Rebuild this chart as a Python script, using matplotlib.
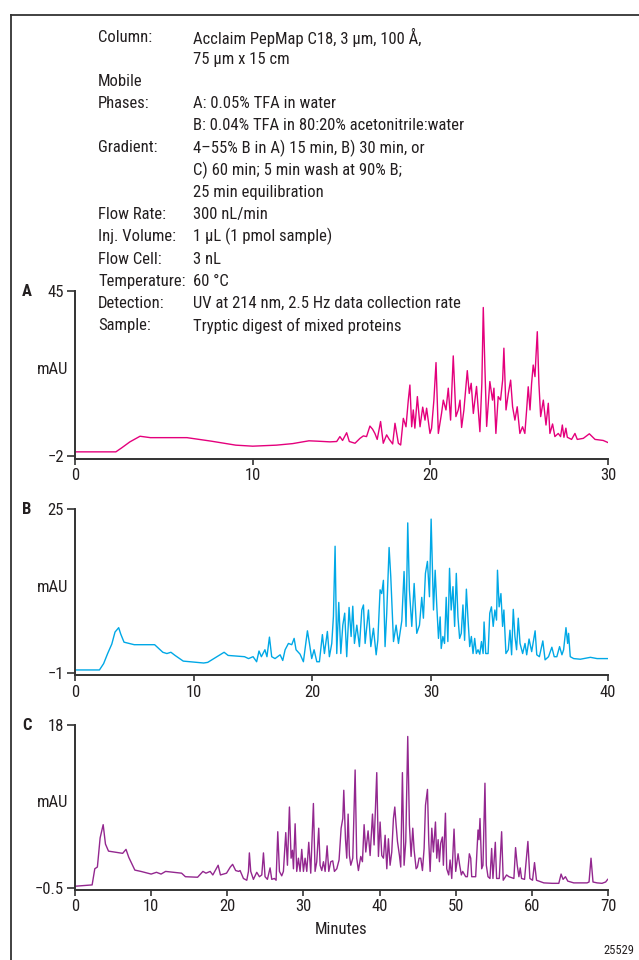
import matplotlib
matplotlib.use("Agg")
import matplotlib.pyplot as plt
import matplotlib.font_manager as fm
from matplotlib.lines import Line2D

# ---------------- font choice: prefer a condensed sans ----------------
FS = 12
_pref = ['Liberation Sans Narrow', 'Roboto Condensed', 'Open Sans Condensed', 'Noto Sans Condensed',
         'DejaVu Sans Condensed']
_names = {f.name for f in fm.fontManager.ttflist}
_chosen = None
_stretch = 'normal'
for n in _pref:
    if n in _names:
        _chosen = n
        break
if _chosen is None:
    for f in fm.fontManager.ttflist:
        if f.stretch in ('condensed', 'semi-condensed') and f.name in (
                'DejaVu Sans', 'Noto Sans', 'Open Sans', 'Roboto', 'Liberation Sans'):
            _chosen = f.name
            _stretch = f.stretch
            break
if _chosen is None:
    _chosen = 'Liberation Sans'
    FS = 11
plt.rcParams['font.family'] = [_chosen, 'DejaVu Sans']
plt.rcParams['font.stretch'] = _stretch

# ---------------- data ----------------
a_time = [0, 2.3, 2.63, 3.09, 3.66, 4.24, 6.3, 7.67, 9.05, 10.0, 11.33, 12.25, 12.82, 13.17, 13.62, 14.0,
          14.35, 14.73, 14.91, 15.06, 15.29, 15.44, 15.76, 16.04, 16.23, 16.41, 16.6, 16.75, 16.88, 17.01,
          17.2, 17.35, 17.54, 17.69, 17.88, 18.01, 18.2, 18.33, 18.48, 18.63, 18.76, 18.85, 18.95, 19.04,
          19.13, 19.27, 19.42, 19.57, 19.7, 19.79, 19.98, 20.07, 20.2, 20.32, 20.45, 20.63, 20.73, 20.88,
          21.01, 21.14, 21.29, 21.44, 21.57, 21.67, 21.76, 21.89, 22.08, 22.19, 22.3, 22.42, 22.6, 22.79,
          22.9, 22.98, 23.07, 23.17, 23.35, 23.5, 23.58, 23.69, 23.82, 23.95, 24.07, 24.14, 24.26, 24.39,
          24.52, 24.63, 24.76, 24.89, 25.04, 25.19, 25.32, 25.42, 25.51, 25.61, 25.7, 25.79, 25.89, 25.94,
          26.02, 26.11, 26.21, 26.36, 26.51, 26.64, 26.73, 26.88, 27.01, 27.2, 27.33, 27.43, 27.52, 27.63,
          27.71, 27.95, 28.14, 28.27, 28.61, 28.95, 29.27, 29.73, 30.0]
a_mau = [-0.85, -0.85, 0.3, 2.0, 3.6, 3.2, 3.2, 2.2, 1.06, 0.77, 1.06, 1.5, 2.0, 2.3, 2.2, 2.1,
         2.0, 2.1, 3.5, 2.4, 4.6, 2.1, 1.6, 3.0, 3.7, 3.5, 6.5, 5.6, 4.4, 2.7,
         7.8, 1.6, 4.0, 2.7, 1.4, 7.3, 1.6, 1.1, 8.7, 6.3, 13.9, 18.2, 6.3, 11.1,
         5.9, 14.9, 6.3, 11.9, 8.2, 11.6, 4.4, 5.9, 13.9, 24.6, 4.4, 10.1, 13.9, 11.1,
         17.3, 8.2, 26.5, 9.2, 11.1, 13.9, 6.1, 11.1, 22.3, 15.8, 18.7, 10.1, 17.8, 4.9,
         18.7, 40.3, 23.4, 6.4, 19.2, 13.9, 17.3, 4.4, 14.9, 13.9, 19.6, 28.7, 11.1, 15.8,
         19.6, 12.0, 8.2, 12.0, 4.4, 6.3, 4.4, 11.1, 17.7, 11.1, 18.7, 23.9, 20.6, 25.8,
         33.4, 18.7, 9.2, 13.9, 6.8, 13.0, 4.4, 7.1, 3.5, 4.4, 3.5, 6.8, 3.3, 5.9,
         3.3, 2.7, 4.4, 2.7, 3.0, 4.3, 2.7, 2.4, 1.8]

b_time = [0, 2.06, 2.41, 2.75, 3.1, 3.37, 3.68, 3.85, 4.13, 4.99, 6.71, 7.4, 7.74, 8.08, 8.43, 9.12,
          10.84, 11.18, 12.56, 12.9, 14.28, 14.62, 15.0, 15.3, 15.5, 15.7, 16.0, 16.17, 16.38,
          16.57, 16.85, 17.28, 17.5, 17.7, 17.98, 18.26, 18.46, 18.62, 18.96, 19.24, 19.58, 19.75, 19.94,
          20.14, 20.37, 20.59, 20.84, 21.01, 21.26, 21.43, 21.63, 21.77, 21.91, 22.05, 22.22, 22.39, 22.56,
          22.72, 22.89, 23.09, 23.26, 23.4, 23.54, 23.74, 23.96, 24.16, 24.3, 24.44, 24.72, 24.92, 25.14,
          25.37, 25.51, 25.7, 25.84, 25.98, 26.12, 26.26, 26.46, 26.6, 26.83, 27.05, 27.25, 27.53, 27.72,
          27.89, 28.03, 28.17, 28.37, 28.57, 28.79, 29.02, 29.21, 29.35, 29.52, 29.69, 29.86, 30.0, 30.2,
          30.34, 30.48, 30.62, 30.76, 30.85, 30.99, 31.13, 31.27, 31.41, 31.55, 31.69, 31.84, 31.98, 32.12,
          32.26, 32.4, 32.54, 32.68, 32.82, 32.97, 33.11, 33.25, 33.39, 33.53, 33.67, 33.81, 33.95, 34.1,
          34.24, 34.38, 34.46, 34.6, 34.8, 34.94, 35.08, 35.23, 35.37, 35.51, 35.59, 35.73, 35.88, 36.02,
          36.13, 36.3, 36.5, 36.64, 36.78, 36.92, 37.06, 37.2, 37.34, 37.49, 37.71, 37.91, 38.05, 38.25,
          38.47, 38.76, 38.9, 39.12, 39.41, 39.6, 39.89, 40.17, 40.37, 40.59, 40.82, 41.02, 41.16, 41.36,
          41.5, 41.58, 41.72, 42.01, 42.57, 43.42, 43.98, 44.9]
b_mau = [-0.5, -0.5, 0.5, 2.1, 3.6, 5.5, 6.2, 5.2, 3.9, 3.5, 3.5, 2.3, 2.1, 2.3, 1.8, 0.9,
         0.6, 0.7, 2.3, 1.8, 1.6, 1.3, 1.6, 0.8, 2.5, 1.6, 2.7, 1.6, 4.7,
         1.6, 1.3, 1.9, 1.0, 2.7, 3.7, 3.5, 4.5, 2.7, 2.0, 0.8, 5.7, 3.7, 1.3,
         2.7, 0.8, 0.8, 5.1, 2.1, 5.6, 1.6, 3.7, 8.0, 19.1, 2.1, 10.2, 2.1, 6.6,
         8.5, 1.6, 9.4, 4.8, 9.6, 3.7, 6.6, 3.2, 9.0, 9.8, 3.7, 9.0, 3.2, 6.1,
         1.9, 4.2, 12.2, 11.6, 13.7, 3.2, 8.5, 18.9, 14.3, 4.0, 6.6, 3.7, 7.3, 15.1,
         6.4, 22.8, 12.2, 6.4, 13.2, 5.3, 6.6, 11.0, 7.7, 14.8, 16.7, 11.1, 23.4, 9.0,
         15.3, 9.5, 4.5, 7.9, 2.9, 4.8, 3.7, 11.0, 4.0, 15.6, 9.0, 12.7, 6.4, 14.8,
         7.9, 4.5, 5.3, 9.8, 4.2, 12.3, 7.4, 3.2, 4.8, 2.1, 4.5, 2.1, 2.7, 2.0,
         4.0, 2.1, 7.1, 2.1, 2.1, 8.5, 9.5, 6.4, 9.0, 7.4, 15.3, 9.5, 11.6, 6.4,
         9.0, 2.1, 2.7, 5.8, 1.9, 9.1, 4.8, 2.7, 7.7, 3.7, 2.1, 3.7, 1.9, 4.4,
         2.4, 5.7, 1.9, 1.6, 4.1, 1.1, 1.6, 3.1, 1.6, 1.6, 3.2, 1.9, 2.7, 6.2,
         3.7, 5.3, 1.6, 1.3, 1.2, 1.5, 1.3, 1.3]

c_time = [0, 2.25, 2.6, 2.94, 3.3, 3.7, 4.0, 4.4, 6.26, 6.7, 7.06, 7.86, 8.66, 10.0, 10.7, 11.3, 11.9,
          14.0, 14.5, 16.1, 16.8, 17.2, 17.75, 18.1, 18.8, 19.1, 19.9, 20.4, 20.7, 21.1, 21.5,
          21.68, 22.12, 22.56, 22.78, 22.9, 23.08, 23.43, 23.87, 24.22, 24.53, 24.75, 24.96, 25.27, 25.62,
          25.84, 26.19, 26.41, 26.63, 26.85, 27.15, 27.37, 27.68, 27.9, 28.16, 28.38, 28.56, 28.69, 28.91,
          29.12, 29.34, 29.56, 29.78, 30.0, 30.22, 30.44, 30.7, 30.96, 31.31, 31.53, 31.75, 32.01, 32.19,
          32.41, 32.63, 32.85, 33.11, 33.33, 33.59, 33.85, 34.07, 34.38, 34.68, 34.95, 35.17, 35.3, 35.52,
          35.69, 35.87, 36.04, 36.22, 36.48, 36.79, 37.0, 37.22, 37.53, 37.75, 37.97, 38.19, 38.49, 38.76,
          39.07, 39.28, 39.63, 39.85, 40.07, 40.29, 40.51, 40.73, 40.95, 41.16, 41.38, 41.6, 41.82, 42.0,
          42.17, 42.35, 42.61, 42.78, 43.0, 43.22, 43.44, 43.7, 43.92, 44.14, 44.36, 44.54, 44.8, 44.97,
          45.19, 45.41, 45.63, 45.85, 46.03, 46.29, 46.46, 46.64, 46.86, 47.07, 47.34, 47.51, 47.69, 47.86,
          48.03, 48.25, 48.38, 48.65, 48.82, 49.08, 49.26, 49.48, 49.78, 50.0, 50.31, 50.52, 50.74, 50.92,
          51.31, 51.53, 51.79, 51.97, 52.1, 52.62, 52.93, 53.06, 53.19, 53.41, 53.58, 53.84, 54.02, 54.24,
          54.5, 54.72, 54.89, 55.2, 55.37, 55.72, 56.03, 56.24, 56.68, 56.99, 57.64, 57.86, 58.08, 58.3,
          58.47, 58.65, 59.04, 59.48, 59.74, 60.09, 60.35, 60.61, 60.92, 61.57, 62.66, 63.54, 63.84, 64.1,
          64.41, 64.72, 65.5, 66.38, 67.25, 67.51, 67.77, 68.03, 68.56, 69.21, 69.69, 69.96]
c_mau = [-0.28, -0.13, 1.7, 1.9, 5.2, 6.7, 4.5, 3.7, 3.45, 3.9, 3.0, 1.55, 1.4, 1.1, 1.3, 1.1, 1.4,
         1.2, 0.8, 0.74, 1.4, 1.2, 1.4, 1.0, 2.1, 1.0, 1.2, 1.9, 2.2, 1.5, 1.4,
         1.5, 0.6, 0.4, 1.4, 3.5, 1.4, 0.5, 1.3, 0.8, 1.0, 3.5, 0.8, 0.5, 1.8,
         0.5, 0.6, 0.4, 5.9, 1.4, 0.9, 1.4, 5.8, 2.1, 8.7, 2.9, 3.8, 1.7, 6.8,
         1.4, 2.9, 1.4, 3.9, 1.4, 2.9, 1.4, 4.7, 1.2, 9.1, 1.4, 2.5, 6.3, 2.1,
         1.5, 2.5, 1.4, 4.3, 1.4, 2.5, 2.6, 1.4, 1.7, 2.7, 6.3, 7.4, 10.6, 5.1,
         2.9, 7.9, 3.2, 2.1, 2.9, 12.9, 2.9, 1.5, 3.1, 2.5, 6.7, 3.6, 6.0, 3.2,
         7.9, 4.4, 12.6, 3.1, 7.0, 3.2, 2.9, 5.5, 1.7, 5.1, 2.1, 3.6, 7.4, 8.7,
         6.7, 4.8, 3.2, 1.9, 12.6, 2.1, 4.8, 16.7, 6.7, 3.1, 6.3, 3.8, 1.7, 1.9,
         2.9, 2.9, 1.5, 4.0, 8.9, 10.7, 4.8, 1.4, 6.3, 3.6, 7.0, 2.9, 5.0, 2.5,
         4.6, 5.3, 2.1, 8.0, 1.7, 1.0, 2.7, 0.6, 6.2, 1.4, 3.4, 2.1, 1.0, 1.4,
         0.8, 0.8, 3.4, 2.9, 0.8, 0.8, 6.1, 5.0, 7.4, 1.7, 2.1, 11.4, 2.1, 0.8,
         0.6, 4.0, 0.6, 4.7, 0.6, 0.6, 5.9, 0.4, 1.0, 0.8, 0.6, 4.1, 2.1, 0.8,
         1.8, 0.6, 0.5, 4.8, 0.6, 0.4, 2.4, 0.4, 0.3, 0.1, 0.05, 0.05, 1.1, 0.5,
         0.8, 0.3, 0.1, 0.1, 0.1, 0.2, 2.9, 0.2, 0.1, 0.05, 0.2, 0.5]

panel_letters = ['A', 'B', 'C']
y_ticks = [[-2, 45], [-1, 25], [-0.5, 18]]
y_ticklabels = [['\u22122', '45'], ['\u22121', '25'], ['\u22120.5', '18']]
x_ticks = [[0, 10, 20, 30], [0, 10, 20, 30, 44.9], [0, 10, 20, 30, 40, 50, 60, 70]]
x_ticklabels = [['0', '10', '20', '30'], ['0', '10', '20', '30', '40'],
                ['0', '10', '20', '30', '40', '50', '60', '70']]
x_limits = [(0, 30), (0, 44.9), (0, 70)]
y_limits = [(-2.8, 45), (-1.3, 25), (-0.65, 18)]
colors = ['#E4007C', '#00A8E6', '#93278F']

header_labels = ['Column:', '', 'Mobile', 'Phases:', '', 'Gradient:', '', '', 'Flow Rate:',
                 'Inj. Volume:', 'Flow Cell:', 'Temperature:', 'Detection:', 'Sample:']
header_values = ['Acclaim PepMap C18, 3 \u00b5m, 100 \u00c5,', '75 \u00b5m x 15 cm', '',
                 'A: 0.05% TFA in water', 'B: 0.04% TFA in 80:20% acetonitrile:water',
                 '4\u201355% B in A) 15 min, B) 30 min, or', 'C) 60 min; 5 min wash at 90% B;',
                 '25 min equilibration', '300 nL/min', '1 \u00b5L (1 pmol sample)', '3 nL', '60 \u00b0C',
                 'UV at 214 nm, 2.5 Hz data collection rate', 'Tryptic digest of mixed proteins']

# ---------------- figure ----------------
W, H = 639, 960
fig = plt.figure(figsize=(W / 100, H / 100), dpi=100)
TXT = '#231F20'
AX = '#333333'


def fx(px):
    return px / W


def fy(py):
    return 1 - py / H


# frame lines (left and top)
fig.add_artist(Line2D([fx(11), fx(11)], [fy(15), 0], color=AX, lw=1.3))
fig.add_artist(Line2D([fx(11), 1], [fy(15), fy(15)], color=AX, lw=1.3))

# axes placement in pixels: (top py, bottom py)
boxes = [(291, 458.7), (509, 675), (725, 889.5)]
series = [(a_time, a_mau), (b_time, b_mau), (c_time, c_mau)]

for i, ((top, bot), (tt, yy)) in enumerate(zip(boxes, series)):
    ax = fig.add_axes([fx(75), fy(bot), fx(608) - fx(75), (bot - top) / H])
    ax.plot(tt, yy, color=colors[i], lw=1.0)
    ax.set_xlim(*x_limits[i])
    ax.set_ylim(*y_limits[i])
    for s in ['top', 'right']:
        ax.spines[s].set_visible(False)
    for s in ['left', 'bottom']:
        ax.spines[s].set_color(AX)
        ax.spines[s].set_linewidth(1.4)
    ax.set_yticks(y_ticks[i])
    ax.set_yticklabels(y_ticklabels[i])
    ax.set_xticks(x_ticks[i])
    ax.set_xticklabels(x_ticklabels[i])
    ax.tick_params(axis='y', length=6, width=1.2, color=AX, pad=2, labelsize=FS, labelcolor=TXT)
    ax.tick_params(axis='x', length=4, width=1.2, color=AX, pad=3, labelsize=FS, labelcolor=TXT)
    ax.patch.set_alpha(0)
    fig.text(fx(27), fy(top), panel_letters[i], fontsize=FS, fontweight='bold', color=TXT,
             ha='center', va='center')
    mid = (top + bot) / 2 - 5
    fig.text(fx(53), fy(mid), 'mAU', fontsize=FS, color=TXT, ha='center', va='center')

# header text block
for k, (lab, val) in enumerate(zip(header_labels, header_values)):
    y = 37 + k * 22.2
    if lab:
        fig.text(fx(98), fy(y), lab, fontsize=FS, color=TXT, ha='left', va='center')
    if val:
        fig.text(fx(193), fy(y), val, fontsize=FS, color=TXT, ha='left', va='center')

fig.text(fx(341), fy(929), 'Minutes', fontsize=FS, color=TXT, ha='center', va='center')
fig.text(fx(634), fy(950), '25529', fontsize=9, color=TXT, ha='right', va='center')

fig.savefig('out.png', dpi=100, facecolor='white')
